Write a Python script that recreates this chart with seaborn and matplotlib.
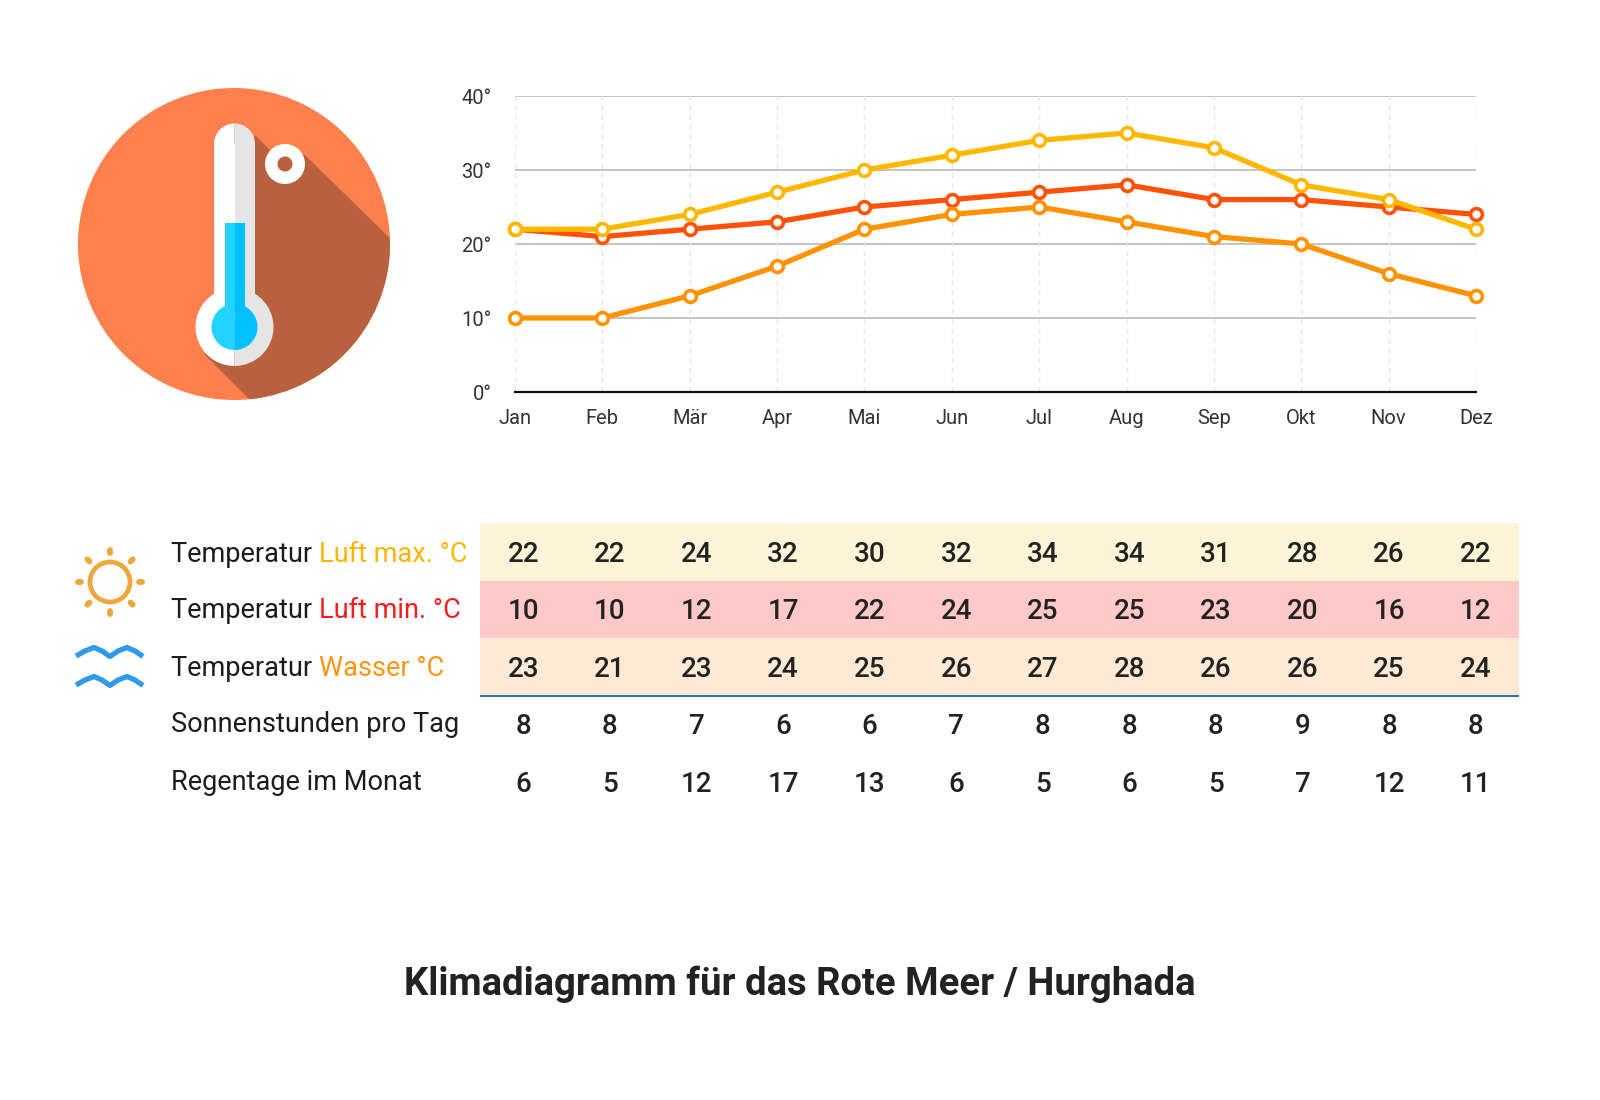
import numpy as np
import pandas as pd
import matplotlib
matplotlib.use("Agg")
import matplotlib.pyplot as plt
from matplotlib.colors import ListedColormap
from matplotlib.patches import Circle, Polygon, Rectangle, Wedge
import seaborn as sns

months = ["Jan", "Feb", "Mär", "Apr", "Mai", "Jun", "Jul", "Aug", "Sep", "Okt", "Nov", "Dez"]
chart_max = [22, 22, 24, 27, 30, 32, 34, 35, 33, 28, 26, 22]
chart_water = [22, 21, 22, 23, 25, 26, 27, 28, 26, 26, 25, 24]
chart_min = [10, 10, 13, 17, 22, 24, 25, 23, 21, 20, 16, 13]
y_ticks = [0, 10, 20, 30, 40]

table_max = [22, 22, 24, 32, 30, 32, 34, 34, 31, 28, 26, 22]
table_min = [10, 10, 12, 17, 22, 24, 25, 25, 23, 20, 16, 12]
table_water = [23, 21, 23, 24, 25, 26, 27, 28, 26, 26, 25, 24]
table_sun = [8, 8, 7, 6, 6, 7, 8, 8, 8, 9, 8, 8]
table_rain = [6, 5, 12, 17, 13, 6, 5, 6, 5, 7, 12, 11]
title = "Klimadiagramm für das Rote Meer / Hurghada"

sns.set_theme(style="white")
plt.rcParams["font.family"] = ["Roboto", "DejaVu Sans"]

W, H = 1600, 1100
fig = plt.figure(figsize=(16, 11), dpi=100, facecolor="white")

def box(x0, y0, x1, y1):
    return [x0 / W, 1 - y1 / H, (x1 - x0) / W, (y1 - y0) / H]

# ---------- line chart ----------
ax = fig.add_axes(box(515, 96, 1476, 392))
long = pd.concat([
    pd.DataFrame({"m": range(12), "v": chart_water, "s": "water"}),
    pd.DataFrame({"m": range(12), "v": chart_min, "s": "min"}),
    pd.DataFrame({"m": range(12), "v": chart_max, "s": "max"}),
])
sns.lineplot(data=long, x="m", y="v", hue="s", sort=False, ax=ax, legend=False,
             palette={"water": "#ff5208", "min": "#ff9200", "max": "#ffb700"},
             linewidth=3.8, marker="o", markersize=8.5, clip_on=False, zorder=5)
for ln in ax.lines:
    ln.set_markerfacecolor("white")
    ln.set_markeredgecolor(ln.get_color())
    ln.set_markeredgewidth(2.6)
ax.set_xlim(0, 11)
ax.set_ylim(0, 40)
ax.set_xticks(range(12))
ax.set_xticklabels(months)
ax.set_yticks(y_ticks)
ax.set_yticklabels([f"{t}°" for t in y_ticks])
ax.set_xlabel("")
ax.set_ylabel("")
ax.tick_params(axis="x", length=0, pad=12.5, labelsize=14.5, labelcolor="#333333")
ax.tick_params(axis="y", length=0, pad=17, labelsize=14.5, labelcolor="#333333")
ax.grid(False)
for v in y_ticks[1:]:
    ax.axhline(v, color="#b4b4b4", lw=1.1, zorder=1)
for i in range(12):
    ax.axvline(i, color="#e6e6e6", lw=1.0, ls=(0, (4, 3)), zorder=1)
for s in ["top", "left", "right"]:
    ax.spines[s].set_visible(False)
ax.spines["bottom"].set_color("#111111")
ax.spines["bottom"].set_linewidth(1.6)
ax.patch.set_alpha(0)

# ---------- table ----------
tab = fig.add_axes(box(480, 523, 1519, 810.5))
vals = np.array([table_max, table_min, table_water, table_sun, table_rain])
rows = np.repeat(np.arange(5)[:, None], 12, axis=1)
sns.heatmap(rows, ax=tab, cbar=False, annot=vals, fmt="d",
            cmap=ListedColormap(["#fdf3d6", "#ffc9c9", "#fde9d4", "#ffffff", "#ffffff"]),
            vmin=-0.5, vmax=4.5, xticklabels=False, yticklabels=False,
            annot_kws={"fontsize": 20, "color": "#222222", "fontweight": "medium"})
for t in tab.texts:
    px, py = t.get_position()
    t.set_position((px, py + 0.04))
tab.axhline(3, color="#2a6db5", lw=1.4)
tab.tick_params(length=0)

# ---------- overlay: icons, labels, title ----------
ov = fig.add_axes([0, 0, 1, 1], zorder=10)
ov.set_xlim(0, W)
ov.set_ylim(H, 0)
ov.axis("off")
ov.patch.set_alpha(0)

# thermometer badge
disc = Circle((234, 244), 156, fc="#ff7f4d", ec="none")
ov.add_patch(disc)
shadow = Polygon([(255, 135), (272, 152), (305, 155), (400, 248), (400, 420), (258, 408), (205, 355)],
                 fc="#b9603e", ec="none")
ov.add_patch(shadow)
shadow.set_clip_path(disc)
bx, by = 234.5, 327
top = 144
hw = 20.5
# y axis is inverted here, so screen-top wedges span 180-360 degrees
ov.add_patch(Wedge((bx, by), 39, 90, 270, fc="white", ec="none"))
ov.add_patch(Wedge((bx, by), 39, -90, 90, fc="#e5e5e5", ec="none"))
ov.add_patch(Rectangle((bx - hw, top), hw, 175, fc="white", ec="none"))
ov.add_patch(Rectangle((bx, top), hw, 175, fc="#e5e5e5", ec="none"))
ov.add_patch(Wedge((bx, top), hw, 180, 270, fc="white", ec="none"))
ov.add_patch(Wedge((bx, top), hw, 270, 360, fc="#e5e5e5", ec="none"))
ov.add_patch(Rectangle((bx - 10, 223), 10, 90, fc="#22d3ff", ec="none"))
ov.add_patch(Rectangle((bx, 223), 10, 90, fc="#00c0ff", ec="none"))
ov.add_patch(Wedge((bx, by), 23, 90, 270, fc="#22d3ff", ec="none"))
ov.add_patch(Wedge((bx, by), 23, -90, 90, fc="#00c0ff", ec="none"))
ov.add_patch(Circle((285, 164), 20, fc="white", ec="none"))
ov.add_patch(Circle((285, 164), 7.5, fc="#b9603e", ec="none"))

# sun
sun = "#f0a63c"
ov.add_patch(Circle((110, 582), 20, fc="none", ec=sun, lw=3.4))
for a in np.deg2rad(np.arange(0, 360, 45)):
    c, s = np.cos(a), np.sin(a)
    ov.plot([110 + 29 * c, 110 + 32 * c], [582 + 29 * s, 582 + 32 * s],
            color=sun, lw=4.2, solid_capstyle="round")

# waves
for dy in (0, 29):
    wx = [76, 85, 94, 102, 110, 118, 127, 135, 143]
    wy = [656, 651, 647.5, 651, 656.5, 651, 647.5, 651, 656.5]
    ov.plot(wx, [y + dy for y in wy], color="#2f9bea", lw=3.8,
            solid_joinstyle="round", solid_capstyle="butt")

# row labels
FS = 19.5
lab = "#1c1c1c"
def label(y, black, colored=None, color=None):
    t = ov.text(171, y, black, fontsize=FS, color=lab, va="center", ha="left")
    if colored:
        ov.annotate(colored, xy=(1, 0), xycoords=t, xytext=(0, 0),
                    textcoords="offset points", fontsize=FS, color=color, va="bottom", ha="left")

label(554, "Temperatur ", "Luft max. °C", "#ffb400")
label(611, "Temperatur ", "Luft min. °C", "#fb1a1a")
label(669, "Temperatur ", "Wasser °C", "#ff9412")
label(725, "Sonnenstunden pro Tag")
label(783, "Regentage im Monat")

ov.text(800, 984, title, fontsize=27.5, fontweight="bold", color="#222222", ha="center", va="center")

fig.savefig("out.png", dpi=100)
